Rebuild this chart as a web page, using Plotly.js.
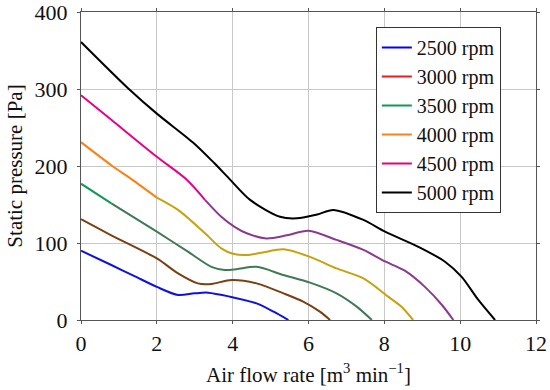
<!DOCTYPE html>
<html>
<head>
<meta charset="utf-8">
<script src="https://cdn.plot.ly/plotly-3.0.1.min.js"></script>
<style>html,body{margin:0;padding:0;background:#fff;}#chart{width:550px;height:390px;}</style>
</head>
<body>
<div id="chart"></div>
<script>
// Data
const seriesNames = ["2500 rpm", "3000 rpm", "3500 rpm", "4000 rpm", "4500 rpm", "5000 rpm"];

const x2500 = [0, 0.8, 1.41, 2, 2.56, 2.99, 3.35, 3.93, 4.63, 5.08, 5.47];
const y2500 = [90, 71.4, 57, 43, 32.5, 34.6, 35.5, 30.3, 21.6, 10.8, 0];

const x3000 = [0, 0.8, 2, 2.56, 3.08, 3.44, 3.97, 4.63, 5.34, 5.86, 6.3, 6.57];
const y3000 = [131, 110, 80, 60.6, 47.6, 46.8, 52, 47.6, 34.6, 23.8, 10.8, 0];

const x3500 = [0, 0.8, 2, 2.82, 3.44, 3.79, 4.1, 4.63, 5.34, 6.04, 6.74, 7.28, 7.67];
const y3500 = [177, 151.5, 114.7, 88.7, 69, 65, 66, 69, 58.4, 48.5, 34.6, 17, 0];

const x4000 = [0, 0.8, 1.33, 2, 2.56, 3.27, 3.7, 4.01, 4.37, 4.82, 5.34, 6.04, 6.74, 7.45, 8.11, 8.46, 8.76];
const y4000 = [231, 201, 183, 159, 143, 112.6, 93, 86, 84.4, 88, 91.8, 82, 67, 54, 30, 17, 0];

const x4500 = [0, 0.8, 2, 2.77, 3.27, 3.7, 4.05, 4.37, 4.89, 5.43, 6, 6.74, 7.45, 8.02, 8.54, 9.07, 9.52, 9.82];
const y4500 = [292, 260, 212, 183, 156, 134, 121, 112.6, 106, 110, 116, 104, 91, 76, 64, 43, 19.5, 0];

const x5000 = [0, 1.24, 2, 2.99, 3.52, 3.92, 4.46, 5.25, 5.69, 6.23, 6.65, 7.45, 8.02, 8.9, 9.6, 10.04, 10.48, 10.92];
const y5000 = [361, 301, 268, 229, 203.5, 183, 156, 134, 132, 137, 143, 130, 114.7, 95, 75.7, 56, 26, 0];

// Styling (not data)
const legendColors = ["#0000ff", "#ee1c1c", "#0f9a58", "#ff8020", "#e6007e", "#000000"];
// each drawn line: [start colour, later colour, x where colour changes]
const lineStyles = [
  ["#1010e6", "#1010e6", null],
  ["#7b3f12", "#7b3f12", null],
  ["#109a58", "#3f7a55", 0.8],
  ["#ff8010", "#c8a20e", 2],
  ["#e8008a", "#8a3a8e", 3.27],
  ["#000000", "#000000", null]
];

const xs = [x2500, x3000, x3500, x4000, x4500, x5000];
const ys = [y2500, y3000, y3500, y4000, y4500, y5000];

const traces = [];
xs.forEach((xv, i) => {
  const [c1, c2, split] = lineStyles[i];
  const ln = (c) => ({color: c, width: 2, shape: "spline", smoothing: 0.8});
  if (split === null) {
    traces.push({x: xv, y: ys[i], mode: "lines", line: ln(c1), showlegend: false, hoverinfo: "skip"});
  } else {
    const k = xv.indexOf(split);
    traces.push({x: xv.slice(0, k + 1), y: ys[i].slice(0, k + 1), mode: "lines", line: ln(c1), showlegend: false, hoverinfo: "skip"});
    traces.push({x: xv.slice(k), y: ys[i].slice(k), mode: "lines", line: ln(c2), showlegend: false, hoverinfo: "skip"});
  }
});
// legend entries
seriesNames.forEach((n, i) => {
  traces.push({x: [null], y: [null], mode: "lines", name: n, line: {color: legendColors[i], width: 2}, showlegend: true});
});

const fam = "Liberation Serif, Times New Roman, serif";
const tickFont = {family: fam, size: 22, color: "#111"};
const titleFont = {family: fam, size: 21, color: "#111"};
const legFont = {family: fam, size: 20, color: "#111"};
const axisCommon = {
  showline: true, linecolor: "#555", linewidth: 1.2, mirror: "ticks",
  ticks: "outside", ticklen: 3, tickcolor: "#555",
  showgrid: true, gridcolor: "#c8c8c8", gridwidth: 1,
  zeroline: false, tickfont: tickFont, ticklabeloverflow: "allow"
};

const layout = {
  width: 550, height: 390,
  margin: {l: 81, r: 14, t: 12, b: 70},
  paper_bgcolor: "#fff", plot_bgcolor: "#fff",
  font: titleFont,
  showlegend: true,
  legend: {
    x: 0.648, y: 0.951, xanchor: "left", yanchor: "top",
    bgcolor: "#fff", bordercolor: "#333", borderwidth: 1,
    font: legFont, itemwidth: 30, tracegroupgap: 0
  },
  xaxis: Object.assign({}, axisCommon, {
    range: [0, 12], dtick: 2, tick0: 0,
    title: {text: "Air flow rate [m<sup>3</sup> min<sup>\u22121</sup>]", font: titleFont, standoff: 12}
  }),
  yaxis: Object.assign({}, axisCommon, {
    range: [0, 400], dtick: 100, tick0: 0, ticklabelstandoff: 5,
    title: {text: "Static pressure [Pa]", font: titleFont, standoff: 6}
  })
};

Plotly.newPlot("chart", traces, layout, {displayModeBar: false, staticPlot: true});
</script>
</body>
</html>
